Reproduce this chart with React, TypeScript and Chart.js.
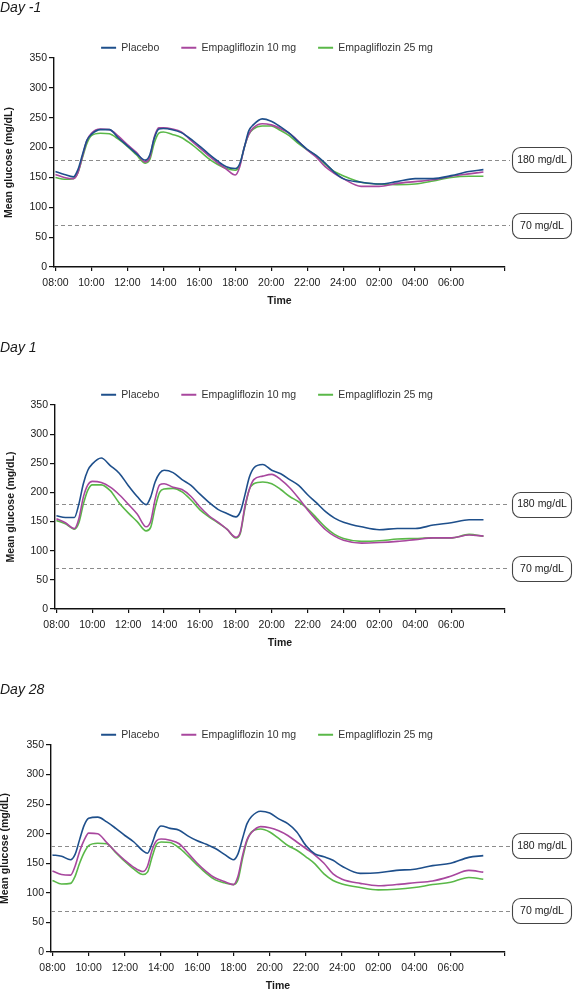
import React, { useEffect, useRef } from 'react';
import { Chart, registerables } from 'chart.js';

Chart.register(...registerables);

const FONT = "'Liberation Sans', Arial, Helvetica, sans-serif";

// hours after 08:00
const hours = [0, 0.5, 1, 1.25, 1.5, 1.75, 2, 2.5, 3, 3.5, 4, 4.5, 5, 5.25, 5.5, 5.75, 6, 6.5, 7, 7.5, 8, 8.5, 9, 9.5, 10, 10.25, 10.5, 10.75, 11, 11.5, 12, 12.5, 13, 13.5, 14, 14.5, 15, 15.5, 16, 17, 18, 19, 20, 21, 22, 23, 23.8];

const tickHours = [0, 2, 4, 6, 8, 10, 12, 14, 16, 18, 20, 22];
const tickLabels = ['08:00', '10:00', '12:00', '14:00', '16:00', '18:00', '20:00', '22:00', '24:00', '02:00', '04:00', '06:00'];
const axisEndHour = 25;

const seriesNames = ['Placebo', 'Empagliflozin 10 mg', 'Empagliflozin 25 mg'];
const seriesColors = ['#1e4f8b', '#a8479e', '#5ab848'];

const thresholds = [180, 70];
const thresholdLabels = ['180 mg/dL', '70 mg/dL'];

// Day -1
const dayM1Placebo = [160, 155, 151, 163, 188, 212, 222, 230, 230, 216, 203, 190, 179, 188, 216, 231, 232, 230, 225, 215, 203, 190, 178, 168, 165, 173, 200, 228, 238, 248, 244, 235, 224, 210, 197, 187, 174, 159, 148, 142, 139, 143, 148, 148, 153, 160, 163];
const dayM1Empa10 = [155, 150, 148, 158, 185, 212, 224, 231, 230, 219, 205, 192, 176, 184, 218, 233, 233, 231, 226, 213, 200, 187, 175, 164, 154, 168, 200, 222, 233, 240, 238, 232, 224, 211, 196, 184, 168, 157, 148, 135, 135, 140, 143, 146, 152, 156, 159];
const dayM1Empa25 = [150, 147, 148, 158, 183, 207, 220, 224, 223, 214, 202, 188, 174, 180, 208, 224, 226, 222, 217, 207, 195, 182, 172, 165, 162, 171, 200, 222, 231, 236, 236, 229, 220, 207, 196, 186, 172, 160, 153, 142, 139, 138, 139, 144, 150, 152, 152];

// Day 1
const day1Placebo = [160, 157, 157, 180, 215, 238, 249, 259, 246, 233, 212, 193, 179, 192, 218, 233, 238, 234, 222, 212, 197, 183, 171, 164, 158, 167, 195, 226, 242, 248, 238, 232, 222, 212, 196, 182, 167, 156, 149, 141, 136, 138, 138, 144, 148, 153, 153];
const day1Empa10 = [155, 148, 138, 155, 192, 213, 219, 217, 209, 196, 180, 163, 141, 150, 188, 213, 215, 209, 205, 193, 175, 160, 149, 137, 123, 132, 175, 205, 222, 228, 231, 222, 208, 190, 170, 152, 136, 125, 118, 113, 114, 116, 119, 122, 122, 127, 125];
const day1Empa25 = [152, 146, 137, 148, 180, 204, 213, 213, 203, 182, 165, 150, 134, 140, 174, 200, 206, 207, 201, 187, 170, 158, 148, 137, 122, 130, 172, 205, 215, 218, 215, 205, 193, 184, 172, 156, 140, 128, 121, 116, 117, 120, 121, 122, 122, 128, 125];

// Day 28
const day28Placebo = [164, 162, 156, 165, 190, 214, 226, 228, 220, 209, 197, 186, 171, 167, 183, 204, 213, 209, 206, 196, 188, 182, 175, 165, 156, 166, 192, 217, 229, 238, 235, 225, 217, 203, 180, 166, 161, 155, 145, 133, 134, 138, 140, 146, 150, 160, 163];
const day28Empa10 = [137, 131, 130, 145, 170, 189, 201, 200, 185, 169, 155, 143, 136, 145, 172, 188, 191, 189, 183, 167, 150, 136, 125, 119, 114, 128, 163, 190, 202, 212, 210, 205, 197, 186, 175, 164, 150, 132, 123, 116, 112, 114, 117, 120, 128, 138, 135];
const day28Empa25 = [121, 115, 116, 128, 150, 168, 180, 184, 183, 168, 153, 140, 131, 135, 160, 182, 186, 185, 176, 162, 147, 133, 122, 117, 114, 122, 158, 188, 203, 208, 203, 192, 180, 172, 161, 149, 132, 121, 115, 109, 105, 106, 109, 114, 118, 126, 123];

const panels = [
  { title: 'Day -1', series: [dayM1Placebo, dayM1Empa10, dayM1Empa25], top: 0, height: 307, titlePadBottom: 3.7, yWidth: 54, yTitlePad: 2.7 },
  { title: 'Day 1', series: [day1Placebo, day1Empa10, day1Empa25], top: 340, height: 309, titlePadBottom: 10.7, yWidth: 55, yTitlePad: 4.7 },
  { title: 'Day 28', series: [day28Placebo, day28Empa10, day28Empa25], top: 682, height: 310, titlePadBottom: 8.7, yWidth: 51, yTitlePad: -1 },
];

const thresholdPlugin = {
  id: 'thresholdLines',
  beforeDatasetsDraw(chart: any) {
    const { ctx, chartArea } = chart;
    const y = chart.scales.y;
    ctx.save();
    ctx.setLineDash([4, 3]);
    ctx.strokeStyle = '#8c8c8c';
    ctx.lineWidth = 1;
    thresholds.forEach((v) => {
      const py = Math.round(y.getPixelForValue(v)) + 0.5;
      ctx.beginPath();
      ctx.moveTo(chartArea.left, py);
      ctx.lineTo(chartArea.right + 5, py);
      ctx.stroke();
    });
    ctx.restore();
  },
  afterDraw(chart: any) {
    const { ctx, chartArea } = chart;
    const y = chart.scales.y;
    ctx.save();
    thresholds.forEach((v, i) => {
      const py = y.getPixelForValue(v);
      const x = chartArea.right + 7.5;
      const w = 59;
      const h = 25;
      const top = Math.round(py - h / 2) + 0.5;
      ctx.beginPath();
      ctx.roundRect(x, top, w, h, 8);
      ctx.fillStyle = '#ffffff';
      ctx.fill();
      ctx.strokeStyle = '#444';
      ctx.lineWidth = 1.1;
      ctx.stroke();
      ctx.fillStyle = '#222';
      ctx.font = `10.5px ${FONT}`;
      ctx.textAlign = 'center';
      ctx.textBaseline = 'middle';
      ctx.fillText(thresholdLabels[i], x + w / 2, py + 0.5);
    });
    ctx.restore();
  },
};

function GlucosePanel({ cfg }: { cfg: any }) {
  const ref = useRef<HTMLCanvasElement>(null);
  useEffect(() => {
    if (!ref.current) return;
    const chart = new Chart(ref.current, {
      type: 'line',
      data: {
        datasets: cfg.series.map((vals: number[], si: number) => ({
          label: seriesNames[si],
          data: hours.map((h, i) => ({ x: h, y: vals[i] })),
          borderColor: seriesColors[si],
          backgroundColor: seriesColors[si],
          borderWidth: 1.6,
          pointRadius: 0,
          cubicInterpolationMode: 'monotone',
          fill: false,
        })),
      },
      options: {
        responsive: false,
        animation: false,
        events: [],
        layout: { padding: { left: 0, right: 40, top: 0, bottom: 0 } },
        plugins: {
          title: {
            display: true,
            text: cfg.title,
            align: 'start',
            color: '#1a1a1a',
            font: { family: FONT, size: 14, style: 'italic', weight: 'normal', lineHeight: 1.2 },
            padding: { top: 0, bottom: cfg.titlePadBottom },
          },
          legend: {
            display: true,
            position: 'top',
            maxHeight: 37.5,
            labels: {
              boxWidth: 15,
              boxHeight: 2,
              padding: 22,
              color: '#333',
              font: { family: FONT, size: 10.5 },
              generateLabels: (c: any) => {
                const items = (Chart as any).defaults.plugins.legend.labels.generateLabels(c);
                items.forEach((it: any) => { it.lineWidth = 0; });
                return items;
              },
            },
          },
          tooltip: { enabled: false },
        },
        scales: {
          x: {
            type: 'linear',
            min: -0.08,
            max: axisEndHour,
            afterBuildTicks: (s: any) => {
              s.ticks = [...tickHours, axisEndHour].map((v) => ({ value: v }));
            },
            afterFit: (s: any) => { s.height = 40; },
            ticks: {
              autoSkip: false,
              maxRotation: 0,
              padding: 6,
              color: '#1a1a1a',
              font: { family: FONT, size: 10.5 },
              callback: (v: any) => {
                const idx = tickHours.indexOf(Number(v));
                return idx >= 0 ? tickLabels[idx] : '';
              },
            },
            grid: { display: true, drawOnChartArea: false, drawTicks: true, tickLength: 4, color: '#111', lineWidth: 1.2 },
            border: { display: true, color: '#111', width: 1.4 },
            title: {
              display: true,
              text: 'Time',
              color: '#1a1a1a',
              font: { family: FONT, size: 10.5, weight: 'bold' },
              padding: { top: 0, bottom: 0 },
            },
          },
          y: {
            type: 'linear',
            min: 0,
            max: 350,
            afterFit: (s: any) => { s.width = cfg.yWidth; },
            ticks: {
              stepSize: 50,
              padding: 2,
              color: '#1a1a1a',
              font: { family: FONT, size: 10.5 },
            },
            grid: { display: true, drawOnChartArea: false, drawTicks: true, tickLength: 5, color: '#111', lineWidth: 1.2 },
            border: { display: true, color: '#111', width: 1.4 },
            title: {
              display: true,
              text: 'Mean glucose (mg/dL)',
              color: '#1a1a1a',
              font: { family: FONT, size: 10.5, weight: 'bold' },
              padding: { top: cfg.yTitlePad, bottom: 0 },
            },
          },
          yR: {
            type: 'linear',
            position: 'right',
            display: true,
            afterFit: (s: any) => { s.width = 29; },
            ticks: { display: false },
            grid: { display: false, drawTicks: false },
            border: { display: false },
          },
        },
      },
      plugins: [thresholdPlugin],
    } as any);
    return () => chart.destroy();
  }, [cfg]);
  return (
    <canvas
      ref={ref}
      width={574}
      height={cfg.height}
      style={{ position: 'absolute', left: 0, top: cfg.top, width: 574, height: cfg.height }}
    />
  );
}

export default function App() {
  return (
    <div style={{ position: 'absolute', left: 0, top: 0, width: 574, height: 990, overflow: 'hidden', background: '#ffffff' }}>
      {panels.map((p, i) => (
        <GlucosePanel key={i} cfg={p} />
      ))}
    </div>
  );
}
